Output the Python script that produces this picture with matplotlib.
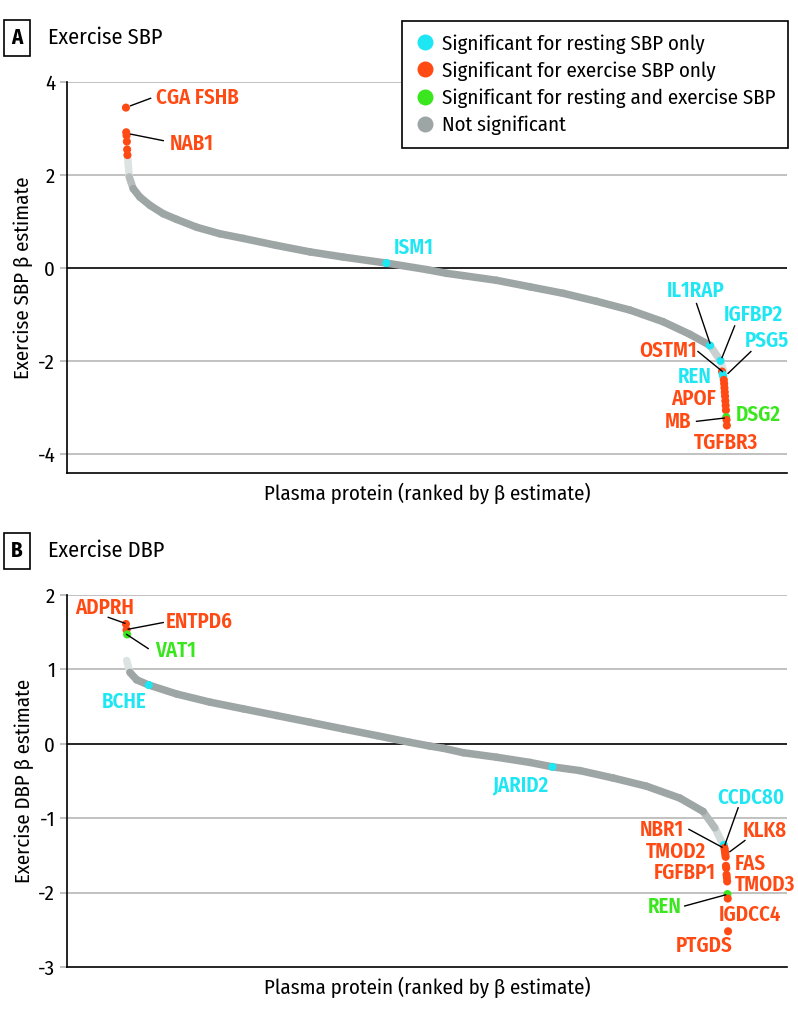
import numpy as np
import matplotlib
matplotlib.use("Agg")
import matplotlib.pyplot as plt
from matplotlib.collections import LineCollection
from matplotlib.lines import Line2D
from matplotlib import font_manager as fm
from matplotlib.colors import to_rgb

# ---------------- data ----------------
# Panel A: exercise SBP (rank along x, beta estimate along y)
a_gray_rank = [4, 4.8, 6.5, 13, 24, 41, 63, 85, 118.5, 157, 196, 251, 307, 362, 434, 501,
               534, 562, 617, 672.5, 728, 783, 839, 894, 938.5, 972, 989.5, 995]
a_gray_beta = [2.36, 2.24, 1.96, 1.71, 1.53, 1.35, 1.17, 1.05, 0.88, 0.74, 0.64, 0.49, 0.35,
               0.24, 0.11, -0.03, -0.11, -0.16, -0.26, -0.40, -0.54, -0.71, -0.90, -1.15,
               -1.42, -1.66, -1.99, -2.22]
a_sig_rank = [1, 1.5, 2, 2.5, 3, 3.5, 434, 972, 989.5, 992, 993, 994,
              995, 995.5, 996, 996.5, 997, 997.5, 998, 998.5, 999, 999.5, 1000]
a_sig_beta = [3.45, 2.92, 2.85, 2.72, 2.55, 2.43, 0.11, -1.66, -1.99, -2.22, -2.28, -2.33,
              -2.40, -2.48, -2.57, -2.66, -2.75, -2.85, -2.95, -3.05, -3.20, -3.26, -3.38]
a_sig_cat = ["ex", "ex", "ex", "ex", "ex", "ex", "rest", "rest", "rest", "ex", "rest", "rest",
             "ex", "ex", "ex", "ex", "ex", "ex", "ex", "ex", "both", "ex", "ex"]

# Panel B: exercise DBP
b_gray_rank = [2.2, 7.6, 18.8, 39, 85, 140.6, 196, 251.5, 307, 362, 418, 473, 506, 528.5,
               562, 617, 672.5, 710, 755.6, 811, 866.5, 922, 960.6, 980, 991, 995]
b_gray_beta = [1.12, 0.96, 0.86, 0.79, 0.67, 0.56, 0.47, 0.38, 0.29, 0.20, 0.11, 0.02, -0.03,
               -0.06, -0.12, -0.18, -0.25, -0.31, -0.36, -0.46, -0.57, -0.73, -0.91, -1.13,
               -1.31, -1.36]
b_sig_rank = [1, 2, 3, 39, 710, 995, 996, 996.5, 997, 997.5, 998, 998.5, 999, 999.5, 1000,
              1000.5, 1001, 1001.5, 1002]
b_sig_beta = [1.61, 1.53, 1.47, 0.79, -0.31, -1.36, -1.40, -1.43, -1.46, -1.49, -1.52, -1.64,
              -1.67, -1.76, -1.80, -1.85, -2.02, -2.08, -2.52]
b_sig_cat = ["ex", "ex", "both", "rest", "rest", "rest", "ex", "ex", "ex", "ex", "ex", "ex",
             "ex", "ex", "ex", "ex", "both", "ex", "ex"]

legend_labels = ["Significant for resting SBP only", "Significant for exercise SBP only",
                 "Significant for resting and exercise SBP", "Not significant"]
a_yticks = [-4, -2, 0, 2, 4]
b_yticks = [-3, -2, -1, 0, 1, 2]

# ---------------- style ----------------
COL = {"rest": "#1ee6f2", "ex": "#ff4a14", "both": "#3ae61e", "ns": "#9ea5a5"}
LIGHT = "#dde3e3"
GRID = "#b0b0b0"

avail = {f.name for f in fm.fontManager.ttflist}
FONT = "DejaVu Sans"
for cand in ["Fira Sans Condensed", "Roboto Condensed", "Liberation Sans Narrow",
             "Noto Sans Condensed", "DejaVu Sans Condensed"]:
    if cand in avail:
        FONT = cand
        break
plt.rcParams["font.family"] = [FONT, "DejaVu Sans"]
plt.rcParams["axes.unicode_minus"] = False

# labels: text, category, x, y, ha, line (x0, y0, x1, y1)
A_LABELS = [
    ("CGA FSHB", "ex", 51, 3.67, "left", (42, 3.65, 8.8, 3.49)),
    ("NAB1", "ex", 73, 2.67, "left", (63, 2.74, 9, 2.88)),
    ("ISM1", "rest", 446, 0.43, "left", None),
    ("IL1RAP", "rest", 948.5, -0.49, "center", (949.6, -0.76, 971.8, -1.61)),
    ("IGFBP2", "rest", 1044, -1.01, "center", (1013, -1.24, 992, -1.92)),
    ("PSG5", "rest", 1066.5, -1.56, "center", (1040, -1.79, 1002, -2.26)),
    ("OSTM1", "ex", 949.6, -1.78, "right", (952, -1.79, 992.7, -2.22)),
    ("REN", "rest", 974.5, -2.33, "right", None),
    ("APOF", "ex", 981, -2.81, "right", None),
    ("MB", "ex", 941, -3.30, "right", (949.6, -3.29, 995.5, -3.22)),
    ("DSG2", "both", 1015, -3.15, "left", None),
    ("TGFBR3", "ex", 999, -3.76, "center", None),
]
B_LABELS = [
    ("ADPRH", "ex", -34, 1.83, "center", (-28.4, 1.70, -0.7, 1.62)),
    ("ENTPD6", "ex", 67, 1.64, "left", (63, 1.63, 4.8, 1.54)),
    ("VAT1", "both", 49, 1.25, "left", (38, 1.28, 2.2, 1.47)),
    ("BCHE", "rest", -2.3, 0.57, "center", None),
    ("JARID2", "rest", 657, -0.55, "center", None),
    ("CCDC80", "rest", 1040, -0.73, "center", (1018.8, -0.86, 996.7, -1.36)),
    ("NBR1", "ex", 928.5, -1.15, "right", (937, -1.15, 992, -1.39)),
    ("KLK8", "ex", 1027, -1.17, "left", (1030, -1.30, 1005, -1.45)),
    ("TMOD2", "ex", 966, -1.45, "right", None),
    ("FAS", "ex", 1013, -1.62, "left", None),
    ("FGFBP1", "ex", 981.7, -1.74, "right", None),
    ("TMOD3", "ex", 1013, -1.90, "left", None),
    ("REN", "both", 924.7, -2.19, "right", (930, -2.18, 998, -2.03)),
    ("IGDCC4", "ex", 1038, -2.30, "center", None),
    ("PTGDS", "ex", 961.8, -2.72, "center", None),
]

W, H = 798, 1019
fig = plt.figure(figsize=(W / 100, H / 100), dpi=100)

LAB_FS = 15
TITLE_FS = 16
AXL_FS = 15
LEG_FS = 15
TICK_FS = 15


def draw_curve(ax, r, b):
    r = np.asarray(r, float)
    b = np.asarray(b, float)
    pts = np.column_stack([r, b])
    segs = np.stack([pts[:-1], pts[1:]], axis=1)
    mid = 0.5 * (r[:-1] + r[1:])
    # lighter shading toward both extreme ends of the ranking
    t = np.maximum(np.clip((12 - mid) / 6, 0, 1), np.clip((mid - 960) / 30, 0, 1))
    g = np.array(to_rgb(COL["ns"]))
    l = np.array(to_rgb(LIGHT))
    cols = (1 - t)[:, None] * g + t[:, None] * l
    order = np.argsort(-t)  # light first, dark on top
    lc = LineCollection(segs[order], colors=cols[order], linewidths=5.4,
                        capstyle="round", joinstyle="round", zorder=3)
    ax.add_collection(lc)


def panel(rect, ylim, yticks, gr, gb, sr, sb, sc, labels, ylab, letter, title, ty_px):
    ax = fig.add_axes(rect)
    ax.set_xlim(-97, 1100)
    ax.set_ylim(*ylim)
    ax.set_yticks(yticks)
    ax.set_yticklabels([str(v) for v in yticks], fontsize=TICK_FS)
    ax.set_xticks([])
    for s in ["top", "right"]:
        ax.spines[s].set_visible(False)
    for s in ["left", "bottom"]:
        ax.spines[s].set_color("black")
        ax.spines[s].set_linewidth(1.2)
    for v in yticks:
        if v == 0:
            ax.axhline(0, color="black", lw=1.2, zorder=1)
        elif v != ylim[0]:
            ax.axhline(v, color=GRID, lw=1.1, zorder=1)
    ax.tick_params(axis="y", length=5, width=1.1, color=GRID, pad=3.5)
    for tk, v in zip(ax.yaxis.get_major_ticks(), yticks):
        if v == 0:
            tk.tick1line.set_color("black")
    draw_curve(ax, gr, gb)
    ax.scatter(sr, sb, s=34, c=[COL[c] for c in sc], linewidths=0, zorder=4)
    for txt, cat, x, y, ha, line in labels:
        ax.text(x, y, txt, color=COL[cat], fontsize=LAB_FS, fontweight="semibold",
                ha=ha, va="center", zorder=5)
        if line is not None:
            ax.plot([line[0], line[2]], [line[1], line[3]], color="black", lw=1.0, zorder=5)
    ax.set_ylabel(ylab, fontsize=AXL_FS, labelpad=3)
    ax.set_xlabel("Plasma protein (ranked by β estimate)", fontsize=AXL_FS, labelpad=7)
    fig.text(17 / W, 1 - ty_px / H, letter, fontsize=15, fontweight="bold", ha="center",
             va="center", bbox=dict(boxstyle="square,pad=0.35", fc="white", ec="black", lw=1.2))
    fig.text(48 / W, 1 - ty_px / H, title, fontsize=TITLE_FS, ha="left", va="center")
    return ax


axA = panel([67 / W, 1 - 473 / H, 720 / W, 391 / H], (-4.4, 4), a_yticks,
            a_gray_rank, a_gray_beta, a_sig_rank, a_sig_beta, a_sig_cat, A_LABELS,
            "Exercise SBP β estimate", "A", "Exercise SBP", 38)
axB = panel([67 / W, 1 - 967 / H, 720 / W, 372 / H], (-3, 2), b_yticks,
            b_gray_rank, b_gray_beta, b_sig_rank, b_sig_beta, b_sig_cat, B_LABELS,
            "Exercise DBP β estimate", "B", "Exercise DBP", 551)

handles = [Line2D([], [], marker="o", ls="", markersize=11.5, markeredgewidth=0,
                  color=COL[k]) for k in ["rest", "ex", "both", "ns"]]
leg = fig.legend(handles, legend_labels, loc="upper right",
                 bbox_to_anchor=(788 / W, 1 - 21 / H), fontsize=LEG_FS, frameon=True,
                 fancybox=False, edgecolor="black", framealpha=1, borderpad=0.62,
                 labelspacing=0.36, handletextpad=0.3, handlelength=1.0, borderaxespad=0)
leg.get_frame().set_linewidth(1.2)
leg.set_zorder(10)

fig.savefig("out.png", dpi=100)
